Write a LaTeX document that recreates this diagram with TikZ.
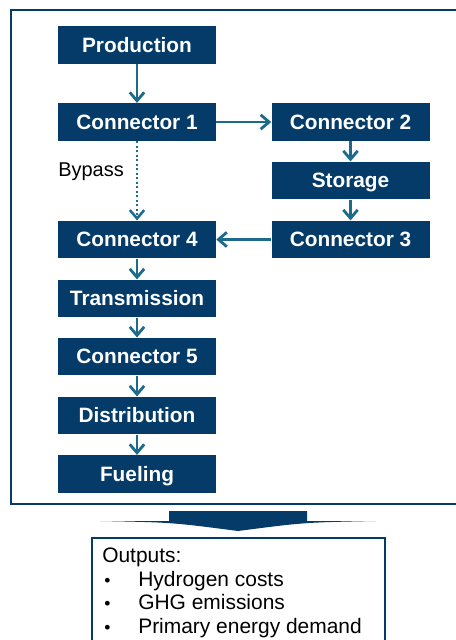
\documentclass[tikz,border=0pt]{standalone}
\usepackage{fontspec}
\setmainfont{Liberation Sans}
\usepackage{tikz}
\usetikzlibrary{arrows.meta}

\definecolor{boxblue}{HTML}{053B68}
\definecolor{flowblue}{HTML}{1C6A8C}

\tikzset{
	stage/.style={rectangle,fill=boxblue,text=white,minimum width=3.95cm,minimum height=0.94cm,
		inner sep=0pt,text height=10.6pt,text depth=0pt,font=\fontsize{14.8}{17}\selectfont\bfseries},
	flow/.style={-{Straight Barb[length=2.1mm,width=3.6mm]},line width=2pt,draw=flowblue},
	bypass/.style={flow,dash pattern=on 1.6pt off 1.6pt,line width=1.8pt},
	outline/.style={draw=boxblue,line width=1.5pt},
	outtext/.style={anchor=base west,inner sep=0pt,font=\fontsize{14.9}{17}\selectfont},
	outbullet/.style={anchor=base west,inner sep=0pt,font=\fontsize{12.5}{14}\selectfont}
}

\begin{document}
\begin{tikzpicture}
	\useasboundingbox (0,0) rectangle (11.375,-16);
	
	%frame
	\draw[outline] (0.275,-0.25) rectangle (11.8,-12.6);
	
	%boxes
	\node[stage] (prod)  at (3.425,-1.125)   {Production};
	\node[stage] (con1)  at (3.425,-3.05)    {Connector 1};
	\node[stage] (con2)  at (8.7625,-3.05)   {Connector 2};
	\node[stage] (stor)  at (8.7625,-4.5125) {Storage};
	\node[stage] (con3)  at (8.7625,-5.9875) {Connector 3};
	\node[stage] (con4)  at (3.425,-5.9875)  {Connector 4};
	\node[stage] (trans) at (3.425,-7.4625)  {Transmission};
	\node[stage] (con5)  at (3.425,-8.9125)  {Connector 5};
	\node[stage] (dist)  at (3.425,-10.3875) {Distribution};
	\node[stage] (fuel)  at (3.425,-11.85)   {Fueling};
	
	%arrows
	\draw[flow] (prod)--(con1);
	\draw[flow] (con1)--(con2);
	\draw[flow] (con2)--(stor);
	\draw[flow] (stor)--(con3);
	\draw[flow] (con3)--(con4);
	\draw[bypass] (con1)--(con4);
	\draw[flow] (con4)--(trans);
	\draw[flow] (trans)--(con5);
	\draw[flow] (con5)--(dist);
	\draw[flow] (dist)--(fuel);
	
	%bypass label
	\node[anchor=base west,inner sep=0pt,font=\fontsize{14.2}{17}\selectfont] (bylabel) at (1.45,-4.425) {Bypass};
	
	%big arrow
	\fill[boxblue] (2.5,-13.025)--(4.225,-13.025)--(4.225,-12.775)--(7.675,-12.775)--(7.675,-13.025)--(9.4,-13.025)
		.. controls (7.6,-13.06) .. (5.95,-13.275) .. controls (4.3,-13.06) .. (2.5,-13.025) -- cycle;
	
	%outputs
	\draw[outline] (2.3,-16.5)--(2.3,-13.45)--(9.625,-13.45)--(9.625,-16.5);
	\node[outtext] (outhead) at (2.55,-14.05)  {Outputs:};
	\node[outbullet] (bul1)  at (2.6,-14.65)   {\textbullet};
	\node[outtext] (out1)    at (3.45,-14.65)  {Hydrogen costs};
	\node[outbullet] (bul2)  at (2.6,-15.225)  {\textbullet};
	\node[outtext] (out2)    at (3.45,-15.225) {GHG emissions};
	\node[outbullet] (bul3)  at (2.6,-15.825)  {\textbullet};
	\node[outtext] (out3)    at (3.45,-15.825) {Primary energy demand};
\end{tikzpicture}
\end{document}
